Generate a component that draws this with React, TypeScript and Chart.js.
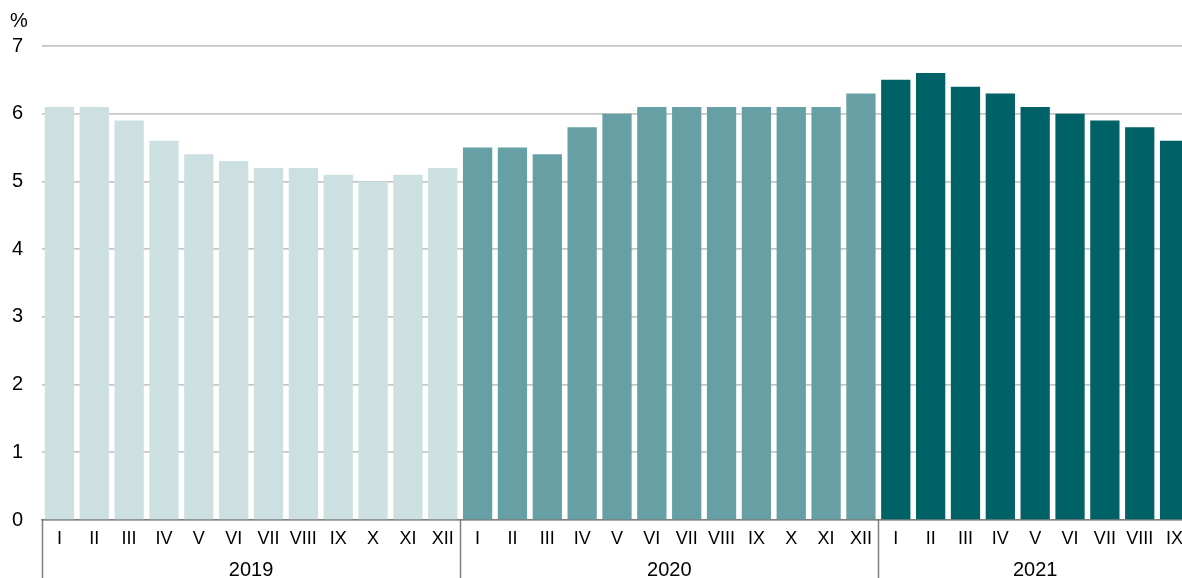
import React, { useEffect, useRef } from "react";
import { Chart, registerables } from "chart.js";

Chart.register(...registerables);

const months = ["I", "II", "III", "IV", "V", "VI", "VII", "VIII", "IX", "X", "XI", "XII"];
const years = ["2019", "2020", "2021"];
const values2019 = [6.1, 6.1, 5.9, 5.6, 5.4, 5.3, 5.2, 5.2, 5.1, 5.0, 5.1, 5.2];
const values2020 = [5.5, 5.5, 5.4, 5.8, 6.0, 6.1, 6.1, 6.1, 6.1, 6.1, 6.1, 6.3];
const values2021 = [6.5, 6.6, 6.4, 6.3, 6.1, 6.0, 5.9, 5.8, 5.6];
const yearColors = ["#CCDFE1", "#66A0A5", "#006166"];
const yTicks = [0, 1, 2, 3, 4, 5, 6, 7];
const unitLabel = "%";

const FONT = "'Liberation Sans', Arial, sans-serif";

export default function App() {
  const ref = useRef<HTMLCanvasElement | null>(null);

  useEffect(() => {
    document.body.style.margin = "0";
    const series = [values2019, values2020, values2021];
    const labels: string[] = [];
    const data: number[] = [];
    const colors: string[] = [];
    const counts: number[] = [];
    series.forEach((vals, yi) => {
      counts.push(vals.length);
      vals.forEach((v, mi) => {
        labels.push(months[mi]);
        data.push(v);
        colors.push(yearColors[yi]);
      });
    });

    const yearPlugin = {
      id: "yearGroups",
      afterDraw(chart: any) {
        const ctx = chart.ctx;
        const xs = chart.scales.x;
        const area = chart.chartArea;
        const h = chart.height;
        ctx.save();
        ctx.strokeStyle = "#7f7f7f";
        ctx.lineWidth = 1.5;
        let start = 0;
        years.forEach((yr, i) => {
          const n = counts[i];
          const left = xs.getPixelForValue(start - 0.5);
          const right = xs.getPixelForValue(start + n - 0.5);
          ctx.beginPath();
          ctx.moveTo(Math.round(left) + 0.5, area.bottom);
          ctx.lineTo(Math.round(left) + 0.5, h);
          ctx.stroke();
          ctx.fillStyle = "#000";
          ctx.font = `20px ${FONT}`;
          ctx.textAlign = "center";
          ctx.textBaseline = "middle";
          ctx.fillText(yr, (left + right) / 2, 570);
          start += n;
        });
        ctx.font = `20px ${FONT}`;
        ctx.textAlign = "left";
        ctx.textBaseline = "middle";
        ctx.fillStyle = "#000";
        ctx.fillText(unitLabel, 10, 21);
        ctx.restore();
      },
    };

    const chart = new Chart(ref.current as HTMLCanvasElement, {
      type: "bar",
      data: {
        labels,
        datasets: [
          {
            data,
            backgroundColor: colors,
            borderWidth: 0,
            barPercentage: 0.84,
            categoryPercentage: 1,
          },
        ],
      },
      options: {
        responsive: false,
        animation: false,
        devicePixelRatio: 1,
        layout: { padding: { top: 46, left: 0, right: 0, bottom: 0 } },
        plugins: {
          legend: { display: false },
          tooltip: { enabled: false },
          title: { display: false },
        },
        scales: {
          x: {
            type: "category",
            offset: true,
            grid: { display: false, drawTicks: false },
            border: { display: true, color: "#7f7f7f", width: 1.5 },
            ticks: {
              color: "#000",
              font: { size: 18, family: FONT },
              padding: 8,
              maxRotation: 0,
              autoSkip: false,
            },
            afterFit: (s: any) => {
              s.height = 58;
            },
          },
          y: {
            min: 0,
            max: 7,
            afterBuildTicks: (s: any) => {
              s.ticks = yTicks.map((v) => ({ value: v }));
            },
            grid: { color: "#c6c6c6", lineWidth: 1.7, drawTicks: false },
            border: { display: false },
            ticks: {
              color: "#000",
              font: { size: 20, family: FONT },
              padding: 19,
            },
            afterFit: (s: any) => {
              s.width = 42;
            },
          },
        },
      },
      plugins: [yearPlugin],
    });
    return () => chart.destroy();
  }, []);

  return (
    <div style={{ width: 1182, height: 578, overflow: "hidden", position: "relative" }}>
      <canvas ref={ref} width={1192} height={578} style={{ display: "block" }} />
    </div>
  );
}
